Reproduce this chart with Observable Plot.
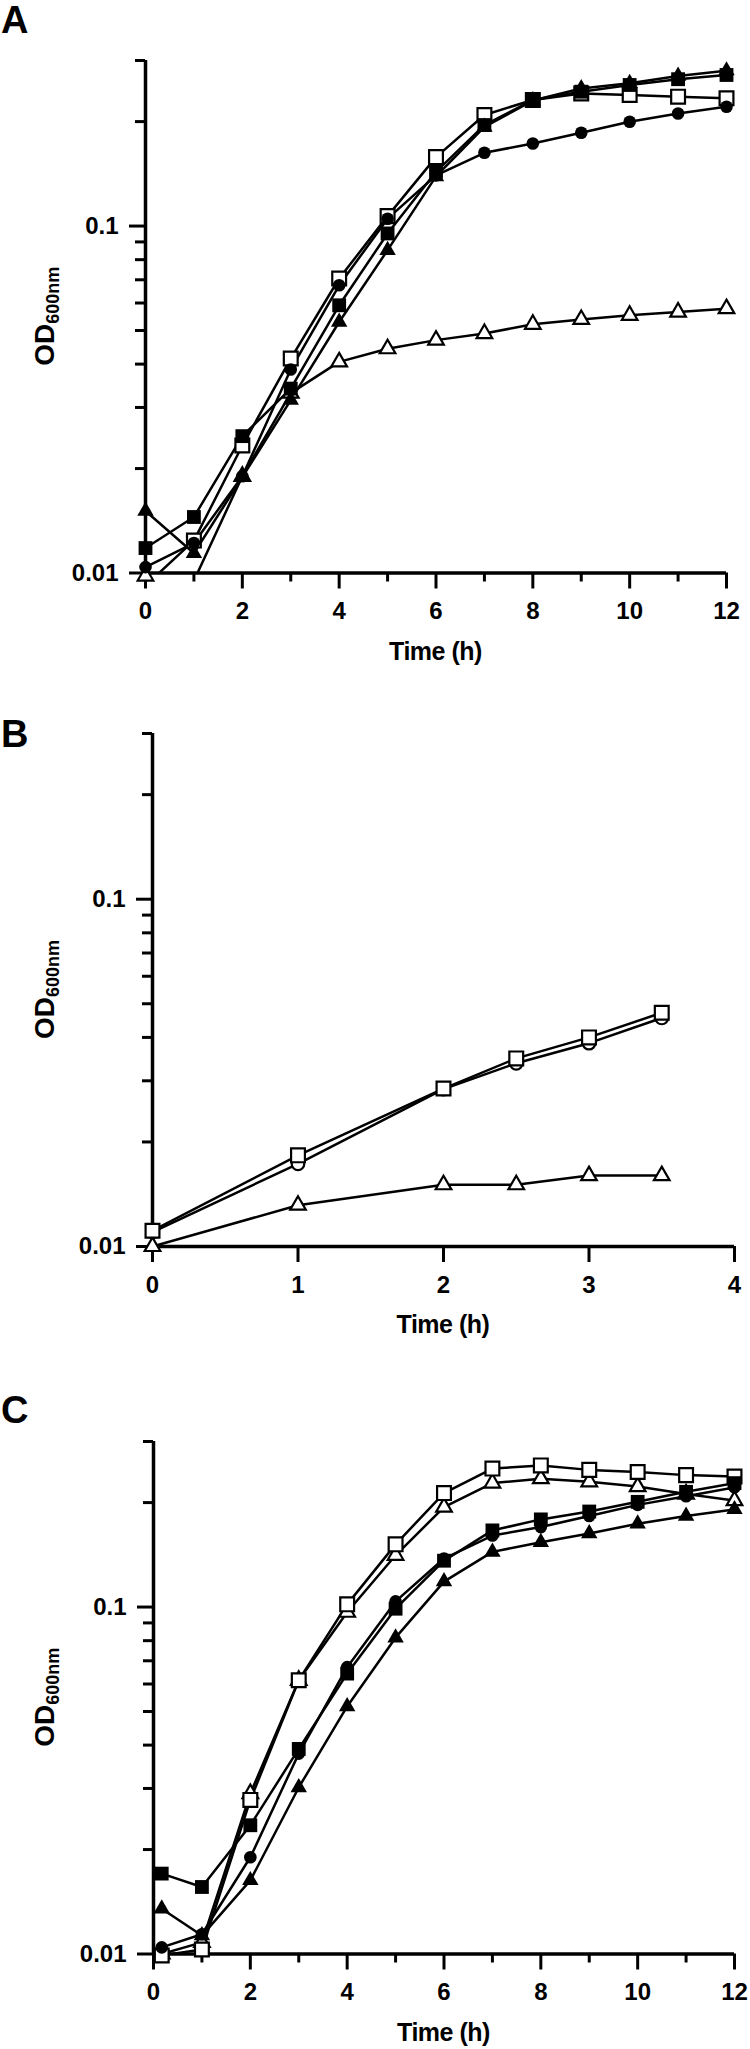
<!DOCTYPE html>
<html>
<head>
<meta charset="utf-8">
<script src="https://cdn.jsdelivr.net/npm/d3@7"></script>
<script src="https://cdn.jsdelivr.net/npm/@observablehq/plot@0.6"></script>
<style>
  html, body { margin: 0; padding: 0; background: #fff; }
  #root { width: 750px; }
  #root svg { display: block; }
</style>
</head>
<body>
<div id="root"></div>
<script>
// ---------- Panel A data ----------
const timeA = [0, 1, 2, 3, 4, 5, 6, 7, 8, 9, 10, 11, 12];
const aOpenTriangle  = [0.0098, 0.0095, 0.019, 0.033, 0.0406, 0.0443, 0.0469, 0.049, 0.0521, 0.0538, 0.0553, 0.0565, 0.0578];
const aOpenSquare    = [0.0092, 0.0124, 0.0233, 0.0415, 0.0706, 0.1068, 0.158, 0.209, 0.2308, 0.241, 0.2386, 0.236, 0.2335];
const aFilledCircle  = [0.0104, 0.0122, 0.019, 0.0386, 0.0675, 0.105, 0.140, 0.1626, 0.173, 0.1857, 0.1998, 0.211, 0.2207];
const aFilledTriangle= [0.0151, 0.0114, 0.0189, 0.0315, 0.0529, 0.0852, 0.139, 0.193, 0.23, 0.249, 0.258, 0.2706, 0.2805];
const aFilledSquare  = [0.0118, 0.0145, 0.0248, 0.034, 0.0591, 0.0952, 0.1433, 0.1955, 0.2308, 0.2439, 0.255, 0.265, 0.2725];

// ---------- Panel B data ----------
const timeB = [0, 1, 2, 2.5, 3, 3.5];
const bOpenTriangle = [0.0100, 0.01315, 0.01506, 0.01506, 0.0160, 0.0160];
const bOpenCircle   = [0.0110, 0.0173, 0.0284, 0.0337, 0.0385, 0.0455];
const bOpenSquare   = [0.0111, 0.0183, 0.0285, 0.0348, 0.0400, 0.0471];

// ---------- Panel C data ----------
const timeC = [0.17, 1, 2, 3, 4, 5, 6, 7, 8, 9, 10, 11, 12];
const cOpenTriangle  = [0.0100, 0.0108, 0.029, 0.0615, 0.0966, 0.141, 0.194, 0.2277, 0.2344, 0.2296, 0.2224, 0.2117, 0.2027];
const cOpenSquare    = [0.0099, 0.0103, 0.0278, 0.0615, 0.1018, 0.1516, 0.213, 0.2506, 0.256, 0.2485, 0.245, 0.240, 0.2379];
const cFilledTriangle= [0.0135, 0.0113, 0.0163, 0.0302, 0.0517, 0.0816, 0.1184, 0.1442, 0.1538, 0.163, 0.1738, 0.183, 0.1912];
const cFilledCircle  = [0.01045, 0.0114, 0.019, 0.0378, 0.0671, 0.1038, 0.138, 0.1607, 0.170, 0.183, 0.197, 0.2086, 0.2213];
const cFilledSquare  = [0.01705, 0.0156, 0.0235, 0.039, 0.0643, 0.0989, 0.136, 0.1663, 0.1789, 0.1885, 0.201, 0.2148, 0.2276];

// ---------- Axis ticks / labels ----------
const yMajorTicks = [0.01, 0.1];
const yMinorTicks = [0.02, 0.03, 0.04, 0.05, 0.06, 0.07, 0.08, 0.09, 0.2, 0.3];
const yDomain = [0.01, 0.3];
const xMajorTicks12 = [0, 2, 4, 6, 8, 10, 12];
const xMinorTicks12 = [1, 3, 5, 7, 9, 11];
const xMajorTicks4 = [0, 1, 2, 3, 4];
const xLabel = "Time (h)";
const yLabelMain = "OD";
const yLabelSub = "600nm";
const panelLetters = ["A", "B", "C"];

// marker styles (not data)
const styles = {
  openTriangle:   {symbol: "triangle", fill: "white", stroke: "black", r: 5.8},
  openCircle:     {symbol: "circle",   fill: "white", stroke: "black", r: 6.3},
  openSquare:     {symbol: "square",   fill: "white", stroke: "black", r: 7.8},
  filledCircle:   {symbol: "circle",   fill: "black", stroke: "none",  r: 6.3},
  filledTriangle: {symbol: "triangle", fill: "black", stroke: "none",  r: 6.1},
  filledSquare:   {symbol: "square",   fill: "black", stroke: "none",  r: 7.8}
};

function rowsFor(times, seriesMap) {
  return Object.entries(seriesMap).flatMap(([key, vals]) =>
    vals.map((v, i) => ({series: key, t: times[i], v})));
}

const FONT = "'Liberation Sans', Arial, Helvetica, sans-serif";

function panel(cfg) {
  const rows = rowsFor(cfg.times, cfg.series);
  const marks = [
    Plot.axisY(yMinorTicks, {anchor: "left", tickSize: 10, strokeWidth: 3, tickFormat: () => "", label: null}),
    Plot.axisY(yMajorTicks, {anchor: "left", tickSize: 16, strokeWidth: 3, tickPadding: 11, fontSize: 24, fontWeight: "bold", tickFormat: d => String(d), label: null}),
  ];
  if (cfg.xMinor.length) {
    marks.push(Plot.axisX(cfg.xMinor, {anchor: "bottom", tickSize: 9, strokeWidth: 3, tickFormat: () => "", label: null}));
  }
  marks.push(
    Plot.axisX(cfg.xMajor, {anchor: "bottom", tickSize: 16, strokeWidth: 3, tickPadding: 13, fontSize: 24, fontWeight: "bold", tickFormat: d => String(d), label: null}),
    Plot.ruleX([cfg.xDomain[0]], {stroke: "black", strokeWidth: 3.5}),
    Plot.ruleY([yDomain[0]], {stroke: "black", strokeWidth: 3.5}),
    Plot.line(rows, {x: "t", y: "v", z: "series", stroke: "black", strokeWidth: 2.5, clip: true})
  );
  for (const key of Object.keys(cfg.series)) {
    const s = styles[key];
    marks.push(Plot.dot(rows.filter(d => d.series === key && d.v >= 0.0098), {
      x: "t", y: "v", symbol: () => s.symbol, r: s.r,
      fill: s.fill, stroke: s.stroke, strokeWidth: 2.2
    }));
  }
  const svg = Plot.plot({
    width: 750,
    height: cfg.height,
    marginTop: cfg.mt, marginBottom: cfg.mb, marginLeft: cfg.ml, marginRight: cfg.mr,
    x: {domain: cfg.xDomain, axis: null},
    y: {type: "log", domain: yDomain, axis: null},
    symbol: {type: "identity"},
    style: {fontFamily: FONT, background: "white", color: "black", fontWeight: "bold"},
    marks
  });
  const sel = d3.select(svg);
  const frameTop = cfg.mt, frameBottom = cfg.height - cfg.mb;
  const frameLeft = cfg.ml, frameRight = 750 - cfg.mr;
  // panel letter
  sel.append("text").attr("x", 1).attr("y", cfg.letterY)
    .attr("text-anchor", "start")
    .attr("font-family", FONT).attr("font-size", 38).attr("font-weight", "bold")
    .attr("fill", "black").text(cfg.letter);
  // x label
  sel.append("text").attr("x", (frameLeft + frameRight) / 2).attr("y", frameBottom + 87)
    .attr("text-anchor", "middle").attr("font-family", FONT).attr("font-size", 25)
    .attr("font-weight", "bold").attr("letter-spacing", -0.5).attr("fill", "black").text(xLabel);
  // y label with subscript
  const yl = sel.append("text")
    .attr("transform", `translate(54,${(frameTop + frameBottom) / 2}) rotate(-90)`)
    .attr("text-anchor", "middle").attr("font-family", FONT).attr("font-weight", "bold").attr("fill", "black");
  yl.append("tspan").attr("font-size", 28).text(yLabelMain);
  yl.append("tspan").attr("font-size", 18).attr("dy", 5).text(yLabelSub);
  return svg;
}

const root = document.getElementById("root");
root.appendChild(panel({
  letter: panelLetters[0], letterY: 33,
  height: 680, mt: 60, mb: 107.5, ml: 145, mr: 24,
  xDomain: [0, 12], xMajor: xMajorTicks12, xMinor: xMinorTicks12,
  times: timeA,
  series: {openTriangle: aOpenTriangle, openSquare: aOpenSquare, filledCircle: aFilledCircle, filledTriangle: aFilledTriangle, filledSquare: aFilledSquare}
}));
root.appendChild(panel({
  letter: panelLetters[1], letterY: 67,
  height: 680, mt: 53, mb: 114, ml: 152, mr: 16,
  xDomain: [0, 4], xMajor: xMajorTicks4, xMinor: [],
  times: timeB,
  series: {openTriangle: bOpenTriangle, openCircle: bOpenCircle, openSquare: bOpenSquare}
}));
root.appendChild(panel({
  letter: panelLetters[2], letterY: 63,
  height: 689, mt: 81, mb: 95.5, ml: 153, mr: 16,
  xDomain: [0, 12], xMajor: xMajorTicks12, xMinor: xMinorTicks12,
  times: timeC,
  series: {openTriangle: cOpenTriangle, openSquare: cOpenSquare, filledTriangle: cFilledTriangle, filledCircle: cFilledCircle, filledSquare: cFilledSquare}
}));
</script>
</body>
</html>
